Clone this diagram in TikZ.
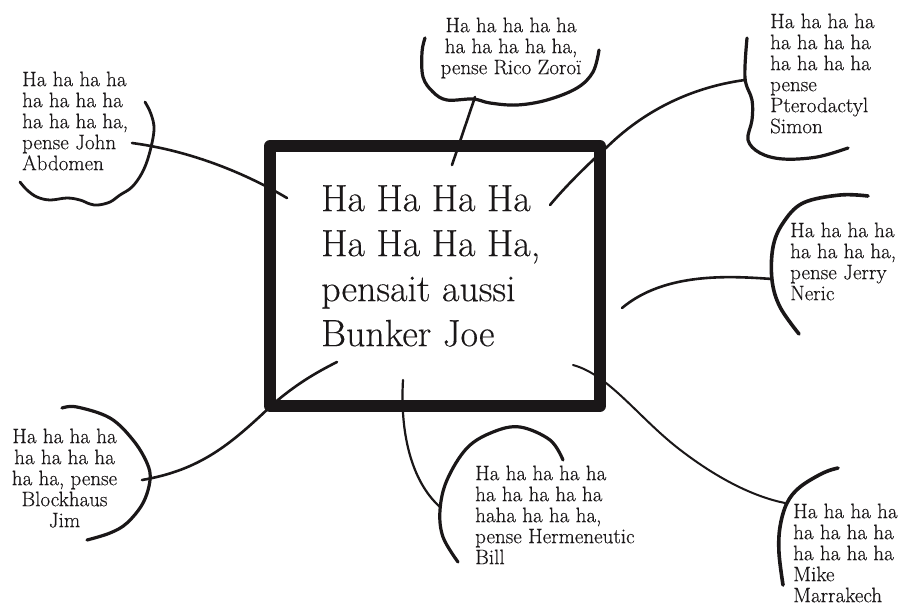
\documentclass[tikz,border=0pt]{standalone}
\usepackage{fontspec}
\newfontfamily\inkfont{lmroman17-regular.otf}[FakeBold=0.3]
\definecolor{ink}{HTML}{1A1718}
\begin{document}
\begin{tikzpicture}[x=1pt,y=-1pt,
  small/.style={inner sep=0pt, text=ink, font=\inkfont\fontsize{21}{21}\selectfont},
  big/.style={inner sep=0pt, text=ink, font=\inkfont\fontsize{38}{45}\selectfont, align=left, anchor=north west},
  bubble/.style={draw=ink, line width=3.2pt, line cap=round, line join=round},
  link/.style={draw=ink, line width=2.6pt, line cap=round, line join=round},
  frame/.style={draw=ink, line width=12pt, line join=round}]
\useasboundingbox (0,0) rectangle (904,606);
\fill[white] (0,0) rectangle (904,606);

% central box
\node[frame, minimum width=330pt, minimum height=260pt, inner sep=0pt] (box) at (435,276) {};
\node[big] (joe) at (321,185) {Ha Ha Ha Ha\\Ha Ha Ha Ha,\\pensait aussi\\Bunker Joe};

% texts
\node[small, align=left, anchor=north west] (john) at (22,71.4) {Ha ha ha ha\\ha ha ha ha\\ha ha ha ha,\\pense John\\Abdomen};
\node[small, align=center, anchor=north] (rico) at (511,17.4) {Ha ha ha ha ha\\ha ha ha ha ha,\\pense Rico Zoroï};
\node[small, align=left, anchor=north west] (simon) at (770,13.4) {Ha ha ha ha\\ha ha ha ha\\ha ha ha ha\\pense\\Pterodactyl\\Simon};
\node[small, align=left, anchor=north west] (jerry) at (790,222.4) {Ha ha ha ha\\ha ha ha ha,\\pense Jerry\\Neric};
\node[small, align=left, anchor=north west] (mike) at (793,503.4) {Ha ha ha ha\\ha ha ha ha\\ha ha ha ha\\Mike\\Marrakech};
\node[small, align=left, anchor=north west] (bill) at (475,465.4) {Ha ha ha ha ha\\ha ha ha ha ha\\haha ha ha ha,\\pense Hermeneutic\\Bill};
\node[small, align=center, anchor=north] (jim) at (64.5,428.4) {Ha ha ha ha\\ha ha ha ha\\ha ha, pense\\Blockhaus\\Jim};

% bubbles
\draw[bubble, line width=2.8pt] plot[smooth, tension=0.6] coordinates {(20,182) (27,190) (37,197) (50,200) (67,198) (80,200) (90,204) (98,205) (110,202) (120,195) (132,187) (142,173) (149,155) (154,130) (151,114) (145,102)};
\draw[bubble] plot[smooth, tension=0.6] coordinates {(425,38) (422,52) (423,77) (433,92) (447,100) (473,99) (490,103) (517,105) (547,100) (577,88) (593,72) (599,50)};
\draw[bubble] plot[smooth, tension=0.6] coordinates {(747,38) (745,78) (752,100) (752,120) (748,140) (760,153) (783,159) (817,157) (848,148)};
\draw[bubble, line width=3.6pt] plot[smooth, tension=0.6] coordinates {(868,196) (840,195) (803,203) (783,223) (773,247) (772,280) (780,307) (799,334)};
\draw[bubble, line width=3.6pt] plot[smooth, tension=0.6] coordinates {(838,468) (823,473) (800,487) (787,503) (780,527) (779,553) (783,585)};
\draw[bubble] plot[smooth, tension=0.6] coordinates {(563,460) (550,440) (520,427) (493,432) (467,448) (447,480) (440,510) (443,537) (458,562)};
\draw[bubble] plot[smooth, tension=0.6] coordinates {(62,408) (77,407) (110,418) (133,440) (147,463) (150,480) (143,503) (127,523) (110,533) (87,540)};

% connector ends
\coordinate (johnA) at (132,143);  \coordinate (johnB) at (287,198);
\coordinate (ricoA) at (475,97);   \coordinate (ricoB) at (452,165);
\coordinate (simonA) at (745,80);  \coordinate (simonB) at (550,205);
\coordinate (jerryA) at (772,279); \coordinate (jerryB) at (622,308);
\coordinate (mikeA) at (785,503);  \coordinate (mikeB) at (573,365);
\coordinate (billA) at (440,507);  \coordinate (billB) at (403,380);
\coordinate (jimA) at (142,480);   \coordinate (jimB) at (337,362);

% connectors
\draw[link] (johnA) .. controls (185,150) and (240,170) .. (johnB);
\draw[link] (ricoA) -- (ricoB);
\draw[link] (simonA) .. controls (700,86) and (650,105) .. (607,147) .. controls (585,167) and (565,187) .. (simonB);
\draw[link] (jerryA) .. controls (730,276) and (665,272) .. (jerryB);
\draw[link, line width=2pt] (mikeB) .. controls (610,375) and (640,420) .. (683,452) .. controls (720,480) and (755,497) .. (mikeA);
\draw[link, line width=2.2pt] (billB) .. controls (400,430) and (410,480) .. (billA);
\draw[link] (jimA) .. controls (200,470) and (230,445) .. (272,405) .. controls (295,385) and (315,373) .. (jimB);
\end{tikzpicture}
\end{document}
